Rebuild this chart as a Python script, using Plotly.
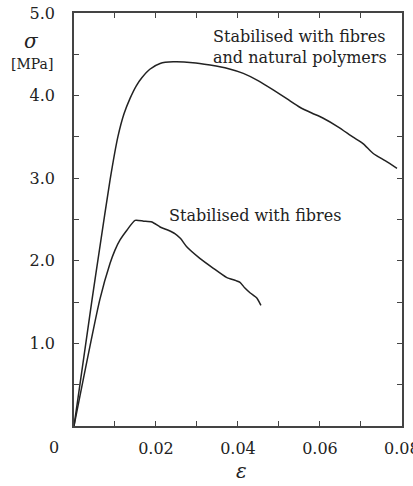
import plotly.graph_objects as go

# Stabilised with fibres and natural polymers
eps_poly = [0.0, 0.0044, 0.0062, 0.0088, 0.0107, 0.0122, 0.0137, 0.0152, 0.0166, 0.0185, 0.0210, 0.0242,
            0.0290, 0.0332, 0.0375, 0.0413, 0.0450, 0.0486, 0.0520, 0.0551, 0.0580, 0.0607, 0.0645,
            0.0680, 0.0705, 0.0730, 0.0760, 0.0788]
sig_poly = [0.0, 1.53, 2.13, 2.98, 3.50, 3.78, 3.97, 4.12, 4.22, 4.32, 4.39, 4.41,
            4.40, 4.37, 4.33, 4.27, 4.18, 4.07, 3.96, 3.86, 3.79, 3.73, 3.62,
            3.50, 3.42, 3.30, 3.21, 3.12]

# Stabilised with fibres
eps_fib = [0.0, 0.0063, 0.0088, 0.0100, 0.0112, 0.0129, 0.0149, 0.0170, 0.0190, 0.0210, 0.0230,
           0.0246, 0.0260, 0.0275, 0.0307, 0.0340, 0.0372, 0.0395, 0.0405, 0.0417, 0.0430,
           0.0446, 0.0456]
sig_fib = [0.0, 1.53, 1.97, 2.13, 2.25, 2.37, 2.49, 2.48, 2.47, 2.41, 2.37,
           2.33, 2.27, 2.17, 2.03, 1.91, 1.80, 1.76, 1.74, 1.67, 1.61,
           1.55, 1.46]

x_ticks = [0.0, 0.01, 0.02, 0.03, 0.04, 0.05, 0.06, 0.07, 0.08]
x_labels = ["", "", "0.02", "", "0.04", "", "0.06", "", "0.08"]
y_ticks = [0.0, 0.5, 1.0, 1.5, 2.0, 2.5, 3.0, 3.5, 4.0, 4.5, 5.0]
y_labels = ["", "", "1.0", "", "2.0", "", "3.0", "", "4.0", "", "5.0"]

FONT = "DejaVu Serif"
INK = "#222222"

fig = go.Figure()
fig.add_trace(go.Scatter(x=eps_poly, y=sig_poly, mode="lines",
                         line=dict(color=INK, width=1.5, shape="spline", smoothing=0.6),
                         showlegend=False, hoverinfo="skip"))
fig.add_trace(go.Scatter(x=eps_fib, y=sig_fib, mode="lines",
                         line=dict(color=INK, width=1.5, shape="spline", smoothing=0.6),
                         showlegend=False, hoverinfo="skip"))

axis_common = dict(showgrid=False, zeroline=False, showline=True, linecolor="#444444", linewidth=1.5,
                   mirror="ticks", ticks="inside", ticklen=5, tickwidth=1.2, tickcolor="#444444",
                   ticklabeloverflow="allow", automargin=False,
                   tickfont=dict(family=FONT, size=16, color=INK))

fig.update_xaxes(range=[0, 0.08002], tickmode="array", tickvals=x_ticks, ticktext=x_labels,
                 ticklabelstandoff=7, **axis_common)
fig.update_yaxes(range=[0, 5.001], tickmode="array", tickvals=y_ticks, ticktext=y_labels,
                 ticklabelstandoff=14, **axis_common)

fig.update_layout(
    width=413, height=486,
    margin=dict(l=74, r=11, t=13, b=60),
    paper_bgcolor="white", plot_bgcolor="white",
    font=dict(family=FONT, color=INK),
)

def px_x(p):
    return (p - 74) / (402 - 74)

def px_y(p):
    return (426 - p) / (426 - 13)

fig.add_annotation(text="Stabilised with fibres<br>and natural polymers", xref="paper", yref="paper",
                   x=px_x(211), y=px_y(47), xanchor="left", yanchor="middle", align="left",
                   showarrow=False, font=dict(family=FONT, size=16, color=INK))
fig.add_annotation(text="Stabilised with fibres", xref="paper", yref="paper",
                   x=px_x(167), y=px_y(215), xanchor="left", yanchor="middle",
                   showarrow=False, font=dict(family=FONT, size=16, color=INK))
fig.add_annotation(text="<i>σ</i>", xref="paper", yref="paper", x=px_x(31), y=px_y(41),
                   xanchor="center", yanchor="middle", showarrow=False,
                   font=dict(family=FONT, size=20, color=INK))
fig.add_annotation(text="[MPa]", xref="paper", yref="paper", x=px_x(32), y=px_y(64),
                   xanchor="center", yanchor="middle", showarrow=False,
                   font=dict(family=FONT, size=14, color=INK))
fig.add_annotation(text="0", xref="paper", yref="paper", x=px_x(54), y=px_y(447),
                   xanchor="center", yanchor="middle", showarrow=False,
                   font=dict(family=FONT, size=16, color=INK))
fig.add_annotation(text="<i>ε</i>", xref="paper", yref="paper", x=px_x(241), y=px_y(471),
                   xanchor="center", yanchor="middle", showarrow=False,
                   font=dict(family=FONT, size=20, color=INK))

fig.write_html("out.html")
